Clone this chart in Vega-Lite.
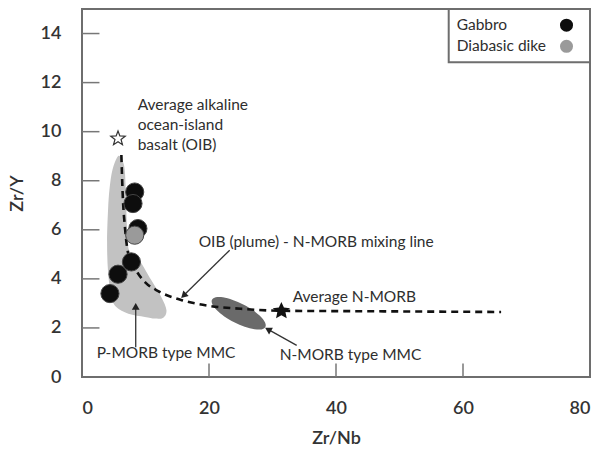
{
  "$schema": "https://vega.github.io/schema/vega-lite/v6.json",
  "width": 508,
  "height": 368,
  "autosize": "none",
  "padding": {"left": 82, "top": 9, "right": 11, "bottom": 72},
  "background": "white",
  "config": {
    "view": {"stroke": "#6e6e6e", "strokeWidth": 2},
    "font": "Lato",
    "axis": {
      "domain": false, "grid": false, "ticks": false,
      "labelFont": "Lato", "labelFontSize": 18, "labelFontWeight": 600, "labelColor": "#333",
      "titleFont": "Lato", "titleFontSize": 18, "titleFontWeight": 600, "titleColor": "#333"
    }
  },
  "datasets": {
    "samples": [
      {"x": 8.3, "y": 7.54, "type": "Gabbro"},
      {"x": 8.03, "y": 7.07, "type": "Gabbro"},
      {"x": 8.8, "y": 6.05, "type": "Gabbro"},
      {"x": 7.78, "y": 4.69, "type": "Gabbro"},
      {"x": 5.67, "y": 4.19, "type": "Gabbro"},
      {"x": 4.4, "y": 3.4, "type": "Gabbro"},
      {"x": 8.3, "y": 5.78, "type": "Diabasic dike"}
    ],
    "pmorb": [
      {"i": 1, "x": 5.67, "y": 9.0}, {"i": 2, "x": 6.3, "y": 8.85}, {"i": 3, "x": 6.75, "y": 8.4},
      {"i": 4, "x": 6.95, "y": 7.0}, {"i": 5, "x": 7.2, "y": 5.5}, {"i": 6, "x": 7.6, "y": 5.1},
      {"i": 7, "x": 8.8, "y": 4.85}, {"i": 8, "x": 10.9, "y": 3.95}, {"i": 9, "x": 12.5, "y": 3.25},
      {"i": 10, "x": 13.3, "y": 2.72}, {"i": 11, "x": 12.8, "y": 2.42}, {"i": 12, "x": 11.5, "y": 2.38},
      {"i": 13, "x": 9.9, "y": 2.45}, {"i": 14, "x": 7.3, "y": 2.58}, {"i": 15, "x": 5.4, "y": 2.85},
      {"i": 16, "x": 4.6, "y": 3.3}, {"i": 17, "x": 4.1, "y": 4.3}, {"i": 18, "x": 3.95, "y": 5.5},
      {"i": 19, "x": 4.1, "y": 6.8}, {"i": 20, "x": 4.35, "y": 7.7}, {"i": 21, "x": 4.8, "y": 8.45}
    ],
    "nmorb": [
      {"i": 1, "x": 28.88, "y": 2.04}, {"i": 2, "x": 28.28, "y": 1.94}, {"i": 3, "x": 27.15, "y": 1.95},
      {"i": 4, "x": 25.62, "y": 2.05}, {"i": 5, "x": 23.97, "y": 2.23}, {"i": 6, "x": 22.41, "y": 2.47},
      {"i": 7, "x": 21.2, "y": 2.73}, {"i": 8, "x": 20.52, "y": 2.97}, {"i": 9, "x": 20.47, "y": 3.15},
      {"i": 10, "x": 21.06, "y": 3.25}, {"i": 11, "x": 22.2, "y": 3.25}, {"i": 12, "x": 23.73, "y": 3.14},
      {"i": 13, "x": 25.39, "y": 2.96}, {"i": 14, "x": 26.94, "y": 2.72}, {"i": 15, "x": 28.16, "y": 2.46},
      {"i": 16, "x": 28.83, "y": 2.22}
    ],
    "mixing": [
      {"i": 1, "x": 6.2, "y": 9.05}, {"i": 2, "x": 6.4, "y": 7.5}, {"i": 3, "x": 6.8, "y": 6.0},
      {"i": 4, "x": 7.3, "y": 5.0}, {"i": 5, "x": 8.5, "y": 4.35}, {"i": 6, "x": 10.0, "y": 3.85},
      {"i": 7, "x": 12.0, "y": 3.5}, {"i": 8, "x": 15.5, "y": 3.15}, {"i": 9, "x": 20.0, "y": 2.9},
      {"i": 10, "x": 25.0, "y": 2.78}, {"i": 11, "x": 31.4, "y": 2.7}, {"i": 12, "x": 45.0, "y": 2.68},
      {"i": 13, "x": 66.0, "y": 2.65}
    ],
    "arrows": [
      {"x": 23.26, "y": 5.17, "x2": 16.0, "y2": 3.32, "angle": 226},
      {"x": 33.81, "y": 1.29, "x2": 29.3, "y2": 1.94, "angle": 299.5},
      {"x": 8.46, "y": 1.21, "x2": 8.46, "y2": 2.88, "angle": 0}
    ],
    "labels": [
      {"x": 8.77, "y": 11.08, "text": "Average alkaline"},
      {"x": 8.77, "y": 10.26, "text": "ocean-island"},
      {"x": 8.77, "y": 9.44, "text": "basalt (OIB)"},
      {"x": 18.37, "y": 5.49, "text": "OIB (plume) - N-MORB mixing line"},
      {"x": 33.18, "y": 3.25, "text": "Average N-MORB"},
      {"x": 31.13, "y": 0.89, "text": "N-MORB type MMC"},
      {"x": 2.31, "y": 0.97, "text": "P-MORB type MMC"}
    ],
    "xticks": [{"x": 20, "y": 0, "y2": 0.55}, {"x": 40, "y": 0, "y2": 0.55}, {"x": 60, "y": 0, "y2": 0.55}],
    "yticks": [
      {"y": 2, "x": 0, "x2": 2.75}, {"y": 4, "x": 0, "x2": 2.75}, {"y": 6, "x": 0, "x2": 2.75},
      {"y": 8, "x": 0, "x2": 2.75}, {"y": 10, "x": 0, "x2": 2.75}, {"y": 12, "x": 0, "x2": 2.75},
      {"y": 14, "x": 0, "x2": 2.75}
    ],
    "legendbox": [{"x": 57.75, "x2": 80, "y": 12.83, "y2": 15}],
    "legend": [
      {"x": 59.0, "y": 14.34, "lx": 76.3, "type": "Gabbro"},
      {"x": 59.0, "y": 13.48, "lx": 76.3, "type": "Diabasic dike"}
    ]
  },
  "encoding": {
    "x": {"field": "x", "type": "quantitative", "scale": {"domain": [0, 80], "nice": false, "zero": false},
      "axis": {"values": [0, 20, 40, 60, 80], "labelPadding": 22, "title": "Zr/Nb", "titlePadding": 12}},
    "y": {"field": "y", "type": "quantitative", "scale": {"domain": [0, 15], "nice": false, "zero": false},
      "axis": {"values": [0, 2, 4, 6, 8, 10, 12, 14], "labelPadding": 21, "title": "Zr/Y", "titlePadding": 14}}
  },
  "layer": [
    {
      "data": {"name": "xticks"},
      "mark": {"type": "rule", "color": "#777", "strokeWidth": 1.5},
      "encoding": {"y2": {"field": "y2"}}
    },
    {
      "data": {"name": "yticks"},
      "mark": {"type": "rule", "color": "#777", "strokeWidth": 1.5},
      "encoding": {"x2": {"field": "x2"}}
    },
    {
      "data": {"name": "pmorb"},
      "mark": {"type": "line", "fill": "#c2c2c2", "strokeOpacity": 0, "interpolate": "cardinal-closed"},
      "encoding": {"order": {"field": "i", "type": "quantitative"}}
    },
    {
      "data": {"name": "nmorb"},
      "mark": {"type": "line", "fill": "#6a6a6a", "strokeOpacity": 0, "interpolate": "cardinal-closed"},
      "encoding": {"order": {"field": "i", "type": "quantitative"}}
    },
    {
      "data": {"name": "mixing"},
      "mark": {"type": "line", "color": "#111", "strokeWidth": 2.6, "strokeDash": [7, 5], "interpolate": "monotone"},
      "encoding": {"order": {"field": "i", "type": "quantitative"}}
    },
    {
      "data": {"name": "samples"},
      "mark": {"type": "point", "filled": true, "size": 330, "opacity": 1, "stroke": "#444", "strokeWidth": 1},
      "encoding": {
        "color": {"field": "type", "type": "nominal", "scale": {"domain": ["Gabbro", "Diabasic dike"], "range": ["#0d0d0d", "#9a9a9a"]}, "legend": null}
      }
    },
    {
      "data": {"values": [{"x": 5.67, "y": 9.72}]},
      "mark": {"type": "point", "shape": "M0,-1L0.247,-0.34L0.951,-0.309L0.399,0.13L0.588,0.809L0,0.42L-0.588,0.809L-0.399,0.13L-0.951,-0.309L-0.247,-0.34Z", "size": 230, "filled": false, "stroke": "#333", "strokeWidth": 1.2, "fill": "white", "opacity": 1}
    },
    {
      "data": {"values": [{"x": 31.4, "y": 2.69}]},
      "mark": {"type": "point", "shape": "M0,-1L0.28,-0.38L0.951,-0.309L0.45,0.15L0.588,0.809L0,0.47L-0.588,0.809L-0.45,0.15L-0.951,-0.309L-0.28,-0.38Z", "size": 330, "filled": true, "color": "#111", "opacity": 1}
    },
    {
      "data": {"name": "arrows"},
      "mark": {"type": "rule", "color": "#333", "strokeWidth": 1.3},
      "encoding": {"x2": {"field": "x2"}, "y2": {"field": "y2"}}
    },
    {
      "data": {"name": "arrows"},
      "mark": {"type": "point", "shape": "triangle-up", "filled": true, "color": "#222", "size": 60, "opacity": 1},
      "encoding": {"x": {"field": "x2", "type": "quantitative"}, "y": {"field": "y2", "type": "quantitative"}, "angle": {"field": "angle", "type": "quantitative", "scale": null}}
    },
    {
      "data": {"name": "labels"},
      "mark": {"type": "text", "align": "left", "baseline": "middle", "font": "Lato", "fontSize": 15.5, "color": "#2e2e2e"},
      "encoding": {"text": {"field": "text"}}
    },
    {
      "data": {"name": "legendbox"},
      "mark": {"type": "rect", "fill": "white", "stroke": "#6e6e6e", "strokeWidth": 2},
      "encoding": {"x2": {"field": "x2"}, "y2": {"field": "y2"}}
    },
    {
      "data": {"name": "legend"},
      "mark": {"type": "text", "align": "left", "baseline": "middle", "font": "Lato", "fontSize": 15.5, "color": "#2e2e2e"},
      "encoding": {"text": {"field": "type"}}
    },
    {
      "data": {"name": "legend"},
      "mark": {"type": "point", "filled": true, "size": 170, "opacity": 1},
      "encoding": {
        "x": {"field": "lx", "type": "quantitative"},
        "color": {"field": "type", "type": "nominal", "scale": {"domain": ["Gabbro", "Diabasic dike"], "range": ["#0d0d0d", "#9a9a9a"]}, "legend": null}
      }
    }
  ]
}
